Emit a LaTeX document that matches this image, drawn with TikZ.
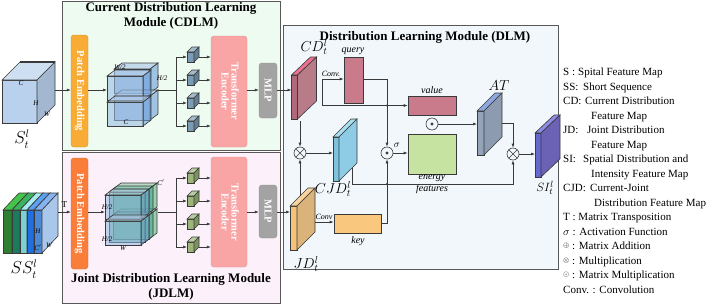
\documentclass[tikz,border=0pt]{standalone}
\usepackage{fontspec}
\setmainfont{Liberation Serif}
\usepackage{amsmath}
\usepackage{amssymb}
\usepackage{graphicx}
\usetikzlibrary{positioning, arrows.meta, calc}

\definecolor{edge}{HTML}{3A3A3A}
\definecolor{cdlmbg}{HTML}{EEFBF1}
\definecolor{jdlmbg}{HTML}{FCF0FB}
\definecolor{dlmbg}{HTML}{F1F7FA}
\definecolor{patchA}{HTML}{F8AB35}
\definecolor{patchB}{HTML}{FB7D3A}
\definecolor{transf}{HTML}{F9A5A5}
\definecolor{mlpgray}{HTML}{A3A3A3}
\definecolor{cubeblue}{HTML}{B9D1EC}
\definecolor{stackblue}{HTML}{6E9FD9}
\definecolor{stackgreen}{HTML}{4FAF6F}
\definecolor{stackteal}{HTML}{3FA58A}
\definecolor{tokblue}{HTML}{7C9CB5}
\definecolor{tokgreen}{HTML}{9CB679}
\definecolor{ssA}{HTML}{2F7F33}
\definecolor{ssAt}{HTML}{45C24A}
\definecolor{ssB}{HTML}{1E7A5C}
\definecolor{ssBt}{HTML}{3DB35F}
\definecolor{ssC}{HTML}{7CCFD2}
\definecolor{ssCt}{HTML}{A6ECEE}
\definecolor{ssD}{HTML}{1F6FDE}
\definecolor{ssDt}{HTML}{5C9FF0}
\definecolor{ssE}{HTML}{4B88D6}
\definecolor{ssEt}{HTML}{84B3F0}
\definecolor{ssEs}{HTML}{A9C7EA}
\definecolor{cdfront}{HTML}{B0687A}
\definecolor{cdtop}{HTML}{EE7090}
\definecolor{cdside}{HTML}{B87C88}
\definecolor{mauve}{HTML}{C97B8B}
\definecolor{cjdfront}{HTML}{7CC3E0}
\definecolor{cjdtop}{HTML}{A8DFF0}
\definecolor{cjdside}{HTML}{8ECBE4}
\definecolor{energy}{HTML}{C6E3A2}
\definecolor{keyorange}{HTML}{F9C77E}
\definecolor{jdfront}{HTML}{F6C27A}
\definecolor{jdtop}{HTML}{F8D49C}
\definecolor{jdside}{HTML}{DAB37B}
\definecolor{atfront}{HTML}{93A3BA}
\definecolor{attop}{HTML}{8DA8E0}
\definecolor{atside}{HTML}{8D9BB0}
\definecolor{sifront}{HTML}{6767D0}
\definecolor{sitop}{HTML}{8C8CE8}
\definecolor{siside}{HTML}{6B62B5}

% slab: named front face, then top and side faces from its corners
\newcommand{\slab}[8]{%
  \node[draw=edge, fill=#6, line width=0.6pt, minimum width=#3, minimum height=#4,
    inner sep=0pt, outer sep=0pt] (#1) at (#2) {};
  \filldraw[draw=edge, fill=#7, line width=0.6pt] (#1.north west) -- ++(#5)
    -- ($(#1.north east)+(#5)$) -- (#1.north east) -- cycle;
  \filldraw[draw=edge, fill=#8, line width=0.6pt] (#1.north east) -- ++(#5)
    -- ($(#1.south east)+(#5)$) -- (#1.south east) -- cycle;
}
\newcommand{\tok}[3]{\slab{#1}{#2}{7pt}{10pt}{5,-5}{#3}{#3!70!white}{#3!80!black}}

\begin{document}
\begin{tikzpicture}[
  x=1pt, y=-1pt,
  line/.style={draw=edge, line width=0.6pt},
  arr/.style={-{Latex[length=4pt, width=3pt]}, draw=edge, line width=0.6pt},
  modbox/.style={draw=edge!85, line width=0.8pt, inner sep=0pt},
  heading/.style={font=\fontsize{13}{15.5}\selectfont\bfseries, align=center},
  block/.style={rounded corners=3pt, text=white, inner sep=0pt,
    font=\fontsize{10.5}{12}\selectfont\bfseries},
  feat/.style={draw=edge, line width=0.6pt, inner sep=0pt},
  lbl/.style={font=\fontsize{10}{11}\selectfont\itshape, inner sep=1pt},
  dimlbl/.style={font=\fontsize{7}{8}\selectfont\itshape, inner sep=0pt},
  maplbl/.style={font=\fontsize{14}{16}\selectfont, inner sep=0pt},
  mulop/.style={circle, draw=edge, fill=dlmbg, line width=0.6pt, minimum size=12pt,
    inner sep=0pt, path picture={\draw[edge, line width=0.6pt]
      (path picture bounding box.north west) -- (path picture bounding box.south east)
      (path picture bounding box.north east) -- (path picture bounding box.south west);}},
  dotop/.style={circle, draw=edge, fill=dlmbg, line width=0.6pt, minimum size=12pt,
    inner sep=0pt, path picture={\fill[edge] (path picture bounding box.center) circle (1.6pt);}},
]
\useasboundingbox (0,0) rectangle (715,306);

% === module frames ===
\node[modbox, fill=cdlmbg, minimum width=218pt, minimum height=149pt] (cdlm) at (171,75.5) {};
\node[modbox, fill=jdlmbg, minimum width=218pt, minimum height=151pt] (jdlm) at (171,227.5) {};
\node[modbox, fill=dlmbg, minimum width=275pt, minimum height=244pt] (dlm) at (420.5,147) {};

\node[heading] (cdlmtitle) at (171,16) {Current Distribution Learning\\Module (CDLM)};
\node[heading] (jdlmtitle) at (171,287) {Joint Distribution Learning Module\\(JDLM)};
\node[heading] (dlmtitle) at (425,37) {Distribution Learning Module (DLM)};

% === CDLM (top) ===
\slab{scube}{19.5,101.5}{35pt}{43pt}{18,-18}{cubeblue}{cubeblue!70!white}{cubeblue!88!black}
\draw[edge, line width=1.2pt] ($(scube.north west)+(18,-18)$) -- ($(scube.north east)+(18,-18)$);
\node[dimlbl] at (21,83) {C};
\node[dimlbl] at (36,103) {H};
\node[dimlbl] at (47,114) {W};
\node[maplbl, font=\fontsize{16}{18}\selectfont] (slbl) at (22,139) {$S_t^l$};
\coordinate (sout) at (55,90);

\node[block, fill=patchA, draw=patchA!85!black, minimum width=17pt, minimum height=112pt]
  (pe1) at (79.5,91) {\rotatebox{-90}{Patch Embedding}};

\begin{scope}[fill opacity=0.6]
  \slab{cb1}{132,81}{36pt}{24pt}{8,-6}{stackblue}{stackblue!60!white}{stackblue}
  \slab{cb2}{132,108}{36pt}{24pt}{8,-6}{stackblue}{stackblue!60!white}{stackblue}
  \slab{cf1}{125,88}{36pt}{24pt}{8,-6}{stackblue!70!white}{stackblue!50!white}{stackblue}
  \slab{cf2}{125,114}{36pt}{24pt}{8,-6}{stackblue!70!white}{stackblue!50!white}{stackblue}
\end{scope}
\node[dimlbl] at (120,67) {W/2};
\node[dimlbl] at (162,78) {H/2};
\node[dimlbl] at (126,122) {C};
\coordinate (cstk) at (158,90);
\coordinate (cfork) at (176,90);

\tok{ct1}{190.5,57}{tokblue}
\tok{ct2}{190.5,80}{tokblue}
\tok{ct3}{190.5,103}{tokblue}
\tok{ct4}{190.5,126}{tokblue}

\node[block, fill=transf, draw=transf!90!black, minimum width=36pt, minimum height=111pt]
  (te1) at (229,91.5) {\rotatebox{-90}{\begin{tabular}{@{}c@{}}Transformer\\[-2pt]Encoder\end{tabular}}};
\node[block, fill=mlpgray, draw=mlpgray!90!black, minimum width=18pt, minimum height=55pt]
  (ml1) at (268,90.5) {\rotatebox{-90}{MLP}};

\draw[arr] (sout) -- (sout -| pe1.west);
\draw[arr] (pe1.east |- sout) -- (sout -| cf1.west);
\draw[line] (cstk) -- (cfork);
\draw[line] (cfork |- ct1) -- (cfork |- ct4);
\foreach \t in {ct1, ct2, ct3, ct4} {
  \draw[arr] (cfork |- \t) -- (\t.west);
  \draw[arr] ([xshift=5pt]\t.east) -- (\t -| te1.west);
}
\draw[arr] (te1.east |- sout) -- (sout -| ml1.west);

% === JDLM (bottom) ===
\slab{ss1}{7.5,231.5}{9pt}{43pt}{16,-17}{ssA}{ssAt}{ssA}
\slab{ss2}{16,231.5}{8pt}{43pt}{16,-17}{ssB}{ssBt}{ssB}
\slab{ss3}{23.5,231.5}{7pt}{43pt}{16,-17}{ssC}{ssCt}{ssC}
\slab{ss4}{30.5,231.5}{7pt}{43pt}{16,-17}{ssD}{ssDt}{ssD}
\slab{ss5}{38,231.5}{8pt}{43pt}{16,-17}{ssE}{ssEt}{ssEs}
\node[dimlbl] at (38,231) {H};
\node[dimlbl] at (38,248) {C$'$};
\node[dimlbl] at (49,245) {W};
\node[maplbl, font=\fontsize{16}{18}\selectfont] (sslbl) at (24,269) {$SS_t^l$};
\coordinate (ssout) at (58,212);

\node[block, fill=patchB, draw=patchB!85!black, minimum width=17pt, minimum height=111pt]
  (pe2) at (79.5,213.5) {\rotatebox{-90}{Patch Embedding}};

\begin{scope}[fill opacity=0.55]
  \slab{jg1}{131,201}{36pt}{24pt}{8,-6}{stackgreen}{stackgreen!70!white}{stackgreen}
  \slab{jg2}{131,227}{36pt}{24pt}{8,-6}{stackgreen}{stackgreen!70!white}{stackgreen}
  \slab{jm1}{127,204}{36pt}{24pt}{8,-6}{stackteal}{stackteal!70!white}{stackteal}
  \slab{jm2}{127,230}{36pt}{24pt}{8,-6}{stackteal}{stackteal!70!white}{stackteal}
  \slab{jf1}{123,207}{36pt}{24pt}{8,-6}{stackblue!75!white}{stackblue!50!white}{stackblue}
  \slab{jf2}{123,233}{36pt}{24pt}{8,-6}{stackblue!75!white}{stackblue!50!white}{stackblue}
\end{scope}
\node[dimlbl] at (107,207) {H/2};
\node[dimlbl] at (107,239) {H/2};
\node[dimlbl] at (123,248) {W};
\node[dimlbl] at (161,183) {C$'$};
\coordinate (jstk) at (158,212);
\coordinate (jfork) at (176,212);

\tok{jt1}{190.5,178}{tokgreen}
\tok{jt2}{190.5,201}{tokgreen}
\tok{jt3}{190.5,224}{tokgreen}
\tok{jt4}{190.5,247}{tokgreen}

\node[block, fill=transf, draw=transf!90!black, minimum width=36pt, minimum height=110pt]
  (te2) at (229,212) {\rotatebox{-90}{\begin{tabular}{@{}c@{}}Transformer\\[-2pt]Encoder\end{tabular}}};
\node[block, fill=mlpgray, draw=mlpgray!90!black, minimum width=18pt, minimum height=53pt]
  (ml2) at (268,211.5) {\rotatebox{-90}{MLP}};

\draw[arr] (ssout) -- (ssout -| pe2.west) node[midway, above=1pt, font=\fontsize{9}{10}\selectfont] {T};
\draw[arr] (pe2.east |- ssout) -- (ssout -| jf1.west);
\draw[line] (jstk) -- (jfork);
\draw[line] (jfork |- jt1) -- (jfork |- jt4);
\foreach \t in {jt1, jt2, jt3, jt4} {
  \draw[arr] (jfork |- \t) -- (\t.west);
  \draw[arr] ([xshift=5pt]\t.east) -- (\t -| te2.west);
}
\draw[arr] (te2.east |- ssout) -- (ssout -| ml2.west);

% === DLM (right) ===
\slab{cd}{294.5,97}{6pt}{44pt}{19,-18}{cdfront}{cdtop}{cdside}
\node[maplbl] (cdlbl) at (314,47) {$CD_t^l$};
\slab{jd}{293.5,228}{7pt}{44pt}{18,-18}{jdfront}{jdtop}{jdside}
\node[maplbl] (jdlbl) at (306,264) {$JD_t^l$};
\slab{cjd}{336,159}{6pt}{44pt}{18,-18}{cjdfront}{cjdtop}{cjdside}
\node[maplbl] (cjdlbl) at (333,189) {$CJD_t^l$};
\slab{att}{480.5,133}{7pt}{44pt}{18,-18}{atfront}{attop}{atside}
\node[maplbl] (atlbl) at (499,86) {$AT$};
\slab{si}{538,155}{6pt}{44pt}{19,-18}{sifront}{sitop}{siside}
\node[maplbl, font=\fontsize{13}{15}\selectfont] (silbl) at (545,188) {$SI_t^l$};

\node[feat, fill=mauve, minimum width=19pt, minimum height=46pt] (qry) at (353.5,80) {};
\node[lbl] at (353,51) {query};
\node[feat, fill=mauve, minimum width=48pt, minimum height=19pt] (val) at (432,105.5) {};
\node[lbl] at (432,90) {value};
\node[feat, fill=energy, minimum width=48pt, minimum height=40pt] (en) at (432,154) {};
\node[lbl, align=center, font=\fontsize{10}{12}\selectfont\itshape] at (432,184) {energy\\features};
\node[feat, fill=keyorange, minimum width=47pt, minimum height=19pt] (key) at (357.5,223.5) {};
\node[lbl] at (358,241) {key};

\node[mulop] (mul1) at (300,153) {};
\node[dotop] (dot1) at (387,153) {};
\node[dotop] (dot2) at (432,124) {};
\node[mulop] (mul2) at (513,154) {};

\coordinate (cconv) at (322,79);
\coordinate (jconv) at (315,222);
\coordinate (cdbot) at (300,121);
\coordinate (jdtop) at (300,196);
\coordinate (cjdout) at (352,168);
\coordinate (atout) at (502,123);

\draw[arr] (ml1.east |- sout) -- (sout -| cd.west);
\draw[arr] (ml2.east |- ssout) -- (ssout -| jd.west);
\draw[arr] (cconv) -- (cconv -| qry.west);
\draw[arr] (cconv) |- (val.west);
\node[lbl, font=\fontsize{8}{9}\selectfont\itshape, anchor=south] at (331,78) {Conv.};
\draw[arr] (jconv) -- (jconv -| key.west);
\node[lbl, font=\fontsize{8}{9}\selectfont\itshape, anchor=south] at (324,221) {Conv};
\draw[arr] (cdbot) -- (mul1);
\draw[arr] (jdtop) -- (mul1);
\draw[arr] (mul1) -- (mul1 -| cjd.west);
\draw[arr] (qry.east |- cconv) -| (dot1);
\draw[arr] (key.east) -| (dot1);
\draw[arr] (dot1) -- (dot1 -| en.west);
\node[font=\fontsize{10}{11}\selectfont] at (397,145) {$\sigma$};
\draw[arr] (dot2) -- (dot2 -| att.west);
\draw[arr] (cjdout) -- ++(0,16) -| (mul2);
\draw[arr] (atout) -| (mul2);
\draw[arr] (mul2) -- (mul2 -| si.west);
\fill[edge] (dot1 |- val) circle (1.1pt);
\fill[edge] (387,184) circle (1.1pt);

% === legend ===
\node[anchor=north west, align=left, inner sep=0pt,
  font=\fontsize{11}{14.5}\selectfont] (legend) at (563,68) {%
  \makebox[15pt][l]{S :}Spital Feature Map\\
  \makebox[20pt][l]{SS:}Short Sequence\\
  \makebox[22pt][l]{CD:}Current Distribution\\
  \hspace*{28pt}Feature Map\\
  \makebox[24pt][l]{JD:}Joint Distribution\\
  \hspace*{28pt}Feature Map\\
  \makebox[20pt][l]{SI:}Spatial Distribution and\\
  \hspace*{28pt}Intensity Feature Map\\
  \makebox[27pt][l]{CJD:}Current-Joint\\
  \hspace*{31pt}Distribution Feature Map\\
  T : Matrix Transposition\\
  $\sigma$ : Activation Function\\
  \raisebox{2pt}{\scriptsize$\oplus$} : Matrix Addition\\
  \raisebox{2pt}{\scriptsize$\otimes$} : Multiplication\\
  \raisebox{2pt}{\scriptsize$\odot$} : Matrix Multiplication\\
  Conv. : Convolution};

\end{tikzpicture}
\end{document}
